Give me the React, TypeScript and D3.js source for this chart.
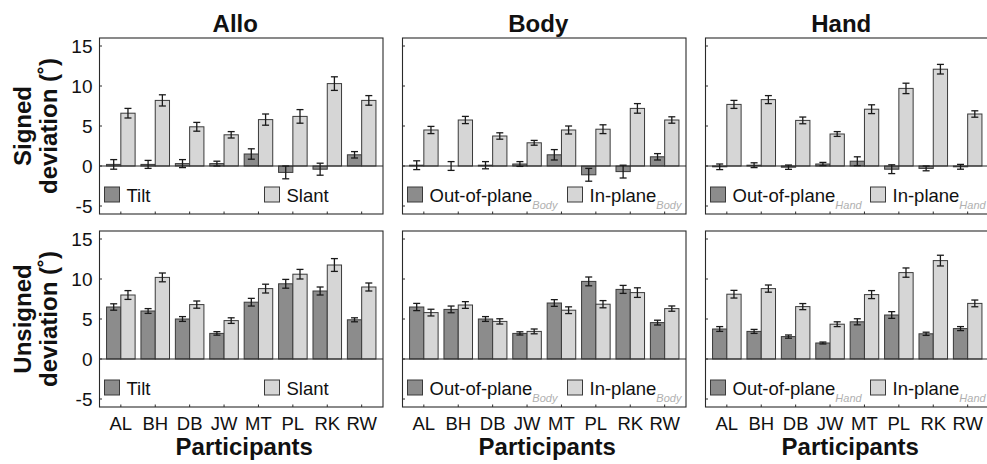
import React from "react";
import * as d3 from "d3";

// Participants along the x axis
const participants = ["AL", "BH", "DB", "JW", "MT", "PL", "RK", "RW"];

// Signed deviation (deg): mean and standard error per participant
const signedAlloTilt = [0.2, 0.2, 0.3, 0.3, 1.5, -0.8, -0.4, 1.4];
const signedAlloTiltErr = [0.6, 0.5, 0.5, 0.3, 0.65, 0.8, 0.75, 0.4];
const signedAlloSlant = [6.6, 8.2, 4.9, 3.9, 5.8, 6.2, 10.3, 8.2];
const signedAlloSlantErr = [0.6, 0.7, 0.55, 0.4, 0.7, 0.85, 0.85, 0.6];
const signedBodyOut = [0.1, 0.0, 0.1, 0.25, 1.4, -1.1, -0.7, 1.15];
const signedBodyOutErr = [0.55, 0.55, 0.45, 0.3, 0.65, 0.8, 0.8, 0.4];
const signedBodyIn = [4.5, 5.75, 3.75, 2.9, 4.5, 4.6, 7.2, 5.75];
const signedBodyInErr = [0.45, 0.45, 0.4, 0.3, 0.5, 0.55, 0.6, 0.4];
const signedHandOut = [-0.1, 0.1, -0.15, 0.25, 0.6, -0.4, -0.3, -0.1];
const signedHandOutErr = [0.35, 0.3, 0.27, 0.2, 0.55, 0.55, 0.3, 0.3];
const signedHandIn = [7.7, 8.3, 5.7, 4.0, 7.1, 9.7, 12.1, 6.5];
const signedHandInErr = [0.5, 0.5, 0.42, 0.3, 0.55, 0.65, 0.6, 0.4];

// Unsigned deviation (deg)
const unsignedAlloTilt = [6.5, 6.0, 5.0, 3.2, 7.1, 9.4, 8.5, 4.9];
const unsignedAlloTiltErr = [0.4, 0.3, 0.3, 0.22, 0.48, 0.55, 0.5, 0.25];
const unsignedAlloSlant = [8.0, 10.2, 6.8, 4.8, 8.8, 10.6, 11.75, 9.0];
const unsignedAlloSlantErr = [0.55, 0.55, 0.45, 0.35, 0.55, 0.6, 0.8, 0.5];
const unsignedBodyOut = [6.5, 6.2, 5.0, 3.2, 7.0, 9.7, 8.7, 4.55];
const unsignedBodyOutErr = [0.45, 0.42, 0.3, 0.2, 0.42, 0.55, 0.5, 0.3];
const unsignedBodyIn = [5.8, 6.75, 4.7, 3.45, 6.1, 6.85, 8.3, 6.3];
const unsignedBodyInErr = [0.42, 0.42, 0.33, 0.3, 0.42, 0.45, 0.6, 0.33];
const unsignedHandOut = [3.75, 3.45, 2.8, 2.0, 4.65, 5.5, 3.15, 3.8];
const unsignedHandOutErr = [0.3, 0.25, 0.2, 0.12, 0.38, 0.42, 0.2, 0.25];
const unsignedHandIn = [8.1, 8.8, 6.55, 4.35, 8.05, 10.8, 12.3, 6.95];
const unsignedHandInErr = [0.48, 0.45, 0.38, 0.3, 0.5, 0.58, 0.67, 0.42];

const columnTitles = ["Allo", "Body", "Hand"];
const rowLabels = [["Signed", "deviation (˚)"], ["Unsigned", "deviation (˚)"]];
const yTicks = [-5, 0, 5, 10, 15];
const legendMain = [["Tilt", "Slant"], ["Out-of-plane", "In-plane"], ["Out-of-plane", "In-plane"]];
const legendSub = [["", ""], ["Body", "Body"], ["Hand", "Hand"]];
const xAxisTitle = "Participants";

const FONT = "'Liberation Sans', Arial, Helvetica, sans-serif";
const DARK = "#8c8c8c";
const LIGHT = "#d6d6d6";
const EDGE = "#3a3a3a";
const AXIS = "#2a2a2a";

const panelLefts = [99.5, 402.5, 705.5];
const panelWidth = 283.5;
const rowTops = [38, 231];
const panelHeight = 176;
const barWidth = 0.415;

type PanelProps = {
  col: number;
  row: number;
  a: number[];
  aErr: number[];
  b: number[];
  bErr: number[];
};

function Panel({ col, row, a, aErr, b, bErr }: PanelProps) {
  const left = panelLefts[col];
  const top = rowTops[row];
  const x = d3.scaleLinear().domain([0.38, 8.62]).range([left, left + panelWidth]);
  const y = d3.scaleLinear().domain([-6, 16]).range([top + panelHeight, top]);
  const bottom = top + panelHeight;
  const right = left + panelWidth;
  const y0 = y(0);

  const series = [
    { vals: a, errs: aErr, offset: -barWidth, fill: DARK },
    { vals: b, errs: bErr, offset: 0, fill: LIGHT },
  ];

  return (
    <g>
      {series.map((s, si) =>
        s.vals.map((v, i) => {
          const x1 = x(i + 1 + s.offset);
          const x2 = x(i + 1 + s.offset + barWidth);
          return (
            <rect
              key={`b${si}-${i}`}
              x={x1}
              y={Math.min(y(v), y0)}
              width={x2 - x1}
              height={Math.abs(y(v) - y0)}
              fill={s.fill}
              stroke={EDGE}
              strokeWidth={1}
            />
          );
        })
      )}
      <line x1={left} x2={right} y1={y0} y2={y0} stroke={AXIS} strokeWidth={1.1} />
      {series.map((s, si) =>
        s.vals.map((v, i) => {
          const cx = x(i + 1 + s.offset + barWidth / 2);
          const hi = y(v + s.errs[i]);
          const lo = y(v - s.errs[i]);
          return (
            <g key={`e${si}-${i}`} stroke="#1a1a1a" strokeWidth={1.3}>
              <line x1={cx} x2={cx} y1={hi} y2={lo} />
              <line x1={cx - 3.5} x2={cx + 3.5} y1={hi} y2={hi} />
              <line x1={cx - 3.5} x2={cx + 3.5} y1={lo} y2={lo} />
            </g>
          );
        })
      )}
      <rect x={left} y={top} width={panelWidth} height={panelHeight} fill="none" stroke={AXIS} strokeWidth={1.1} />
      {yTicks.map((t) => (
        <line key={`yt${t}`} x1={left} x2={left + 2.5} y1={y(t)} y2={y(t)} stroke={AXIS} strokeWidth={1} />
      ))}
      {participants.map((p, i) => (
        <line key={`xt${p}`} x1={x(i + 1)} x2={x(i + 1)} y1={bottom} y2={bottom - 2.5} stroke={AXIS} strokeWidth={1} />
      ))}
      {col === 0 &&
        yTicks.map((t) => (
          <text
            key={`yl${t}`}
            x={left - 7}
            y={y(t)}
            dy="0.36em"
            textAnchor="end"
            fontFamily={FONT}
            fontSize={19}
            fill="#111"
          >
            {t}
          </text>
        ))}
      {row === 1 &&
        participants.map((p, i) => (
          <text
            key={`xl${p}`}
            x={x(i + 1)}
            y={bottom + 22.5}
            textAnchor="middle"
            fontFamily={FONT}
            fontSize={18.5}
            fill="#111"
          >
            {p}
          </text>
        ))}
      {row === 1 && (
        <text
          x={left + panelWidth / 2 + 3}
          y={bottom + 48}
          textAnchor="middle"
          fontFamily={FONT}
          fontSize={24}
          fontWeight="bold"
          fill="#111"
        >
          {xAxisTitle}
        </text>
      )}
      {row === 0 && (
        <text
          x={left + panelWidth / 2 - 6}
          y={top - 6}
          textAnchor="middle"
          fontFamily={FONT}
          fontSize={24}
          fontWeight="bold"
          fill="#111"
        >
          {columnTitles[col]}
        </text>
      )}
      {[5, 165].map((off, k) => (
        <g key={`lg${k}`}>
          <rect
            x={left + off}
            y={y0 + 21}
            width={15}
            height={15}
            fill={k === 0 ? DARK : LIGHT}
            stroke={EDGE}
            strokeWidth={1}
          />
          <text x={left + off + 22} y={y0 + 36} fontFamily={FONT} fontSize={18.5} fill="#111">
            {legendMain[col][k]}
            {legendSub[col][k] && (
              <tspan dy={7} fontSize={11} fontStyle="italic" fill="#b0b0b0">
                {legendSub[col][k]}
              </tspan>
            )}
          </text>
        </g>
      ))}
    </g>
  );
}

export default function App() {
  const panels: PanelProps[] = [
    { col: 0, row: 0, a: signedAlloTilt, aErr: signedAlloTiltErr, b: signedAlloSlant, bErr: signedAlloSlantErr },
    { col: 1, row: 0, a: signedBodyOut, aErr: signedBodyOutErr, b: signedBodyIn, bErr: signedBodyInErr },
    { col: 2, row: 0, a: signedHandOut, aErr: signedHandOutErr, b: signedHandIn, bErr: signedHandInErr },
    { col: 0, row: 1, a: unsignedAlloTilt, aErr: unsignedAlloTiltErr, b: unsignedAlloSlant, bErr: unsignedAlloSlantErr },
    { col: 1, row: 1, a: unsignedBodyOut, aErr: unsignedBodyOutErr, b: unsignedBodyIn, bErr: unsignedBodyInErr },
    { col: 2, row: 1, a: unsignedHandOut, aErr: unsignedHandOutErr, b: unsignedHandIn, bErr: unsignedHandInErr },
  ];

  return (
    <svg
      width={987}
      height={464}
      viewBox="0 0 987 464"
      style={{ position: "absolute", left: 0, top: 0, background: "#fff" }}
    >
      <rect width={987} height={464} fill="#fff" />
      {panels.map((p) => (
        <Panel key={`${p.row}-${p.col}`} {...p} />
      ))}
      {rowLabels.map((lines, r) => {
        const cy = rowTops[r] + panelHeight / 2;
        return (
          <g key={`rl${r}`}>
            {lines.map((t, k) => (
              <text
                key={t}
                transform={`translate(${31 + k * 26}, ${cy}) rotate(-90)`}
                textAnchor="middle"
                fontFamily={FONT}
                fontSize={24}
                fontWeight="bold"
                fill="#111"
              >
                {t}
              </text>
            ))}
          </g>
        );
      })}
    </svg>
  );
}
